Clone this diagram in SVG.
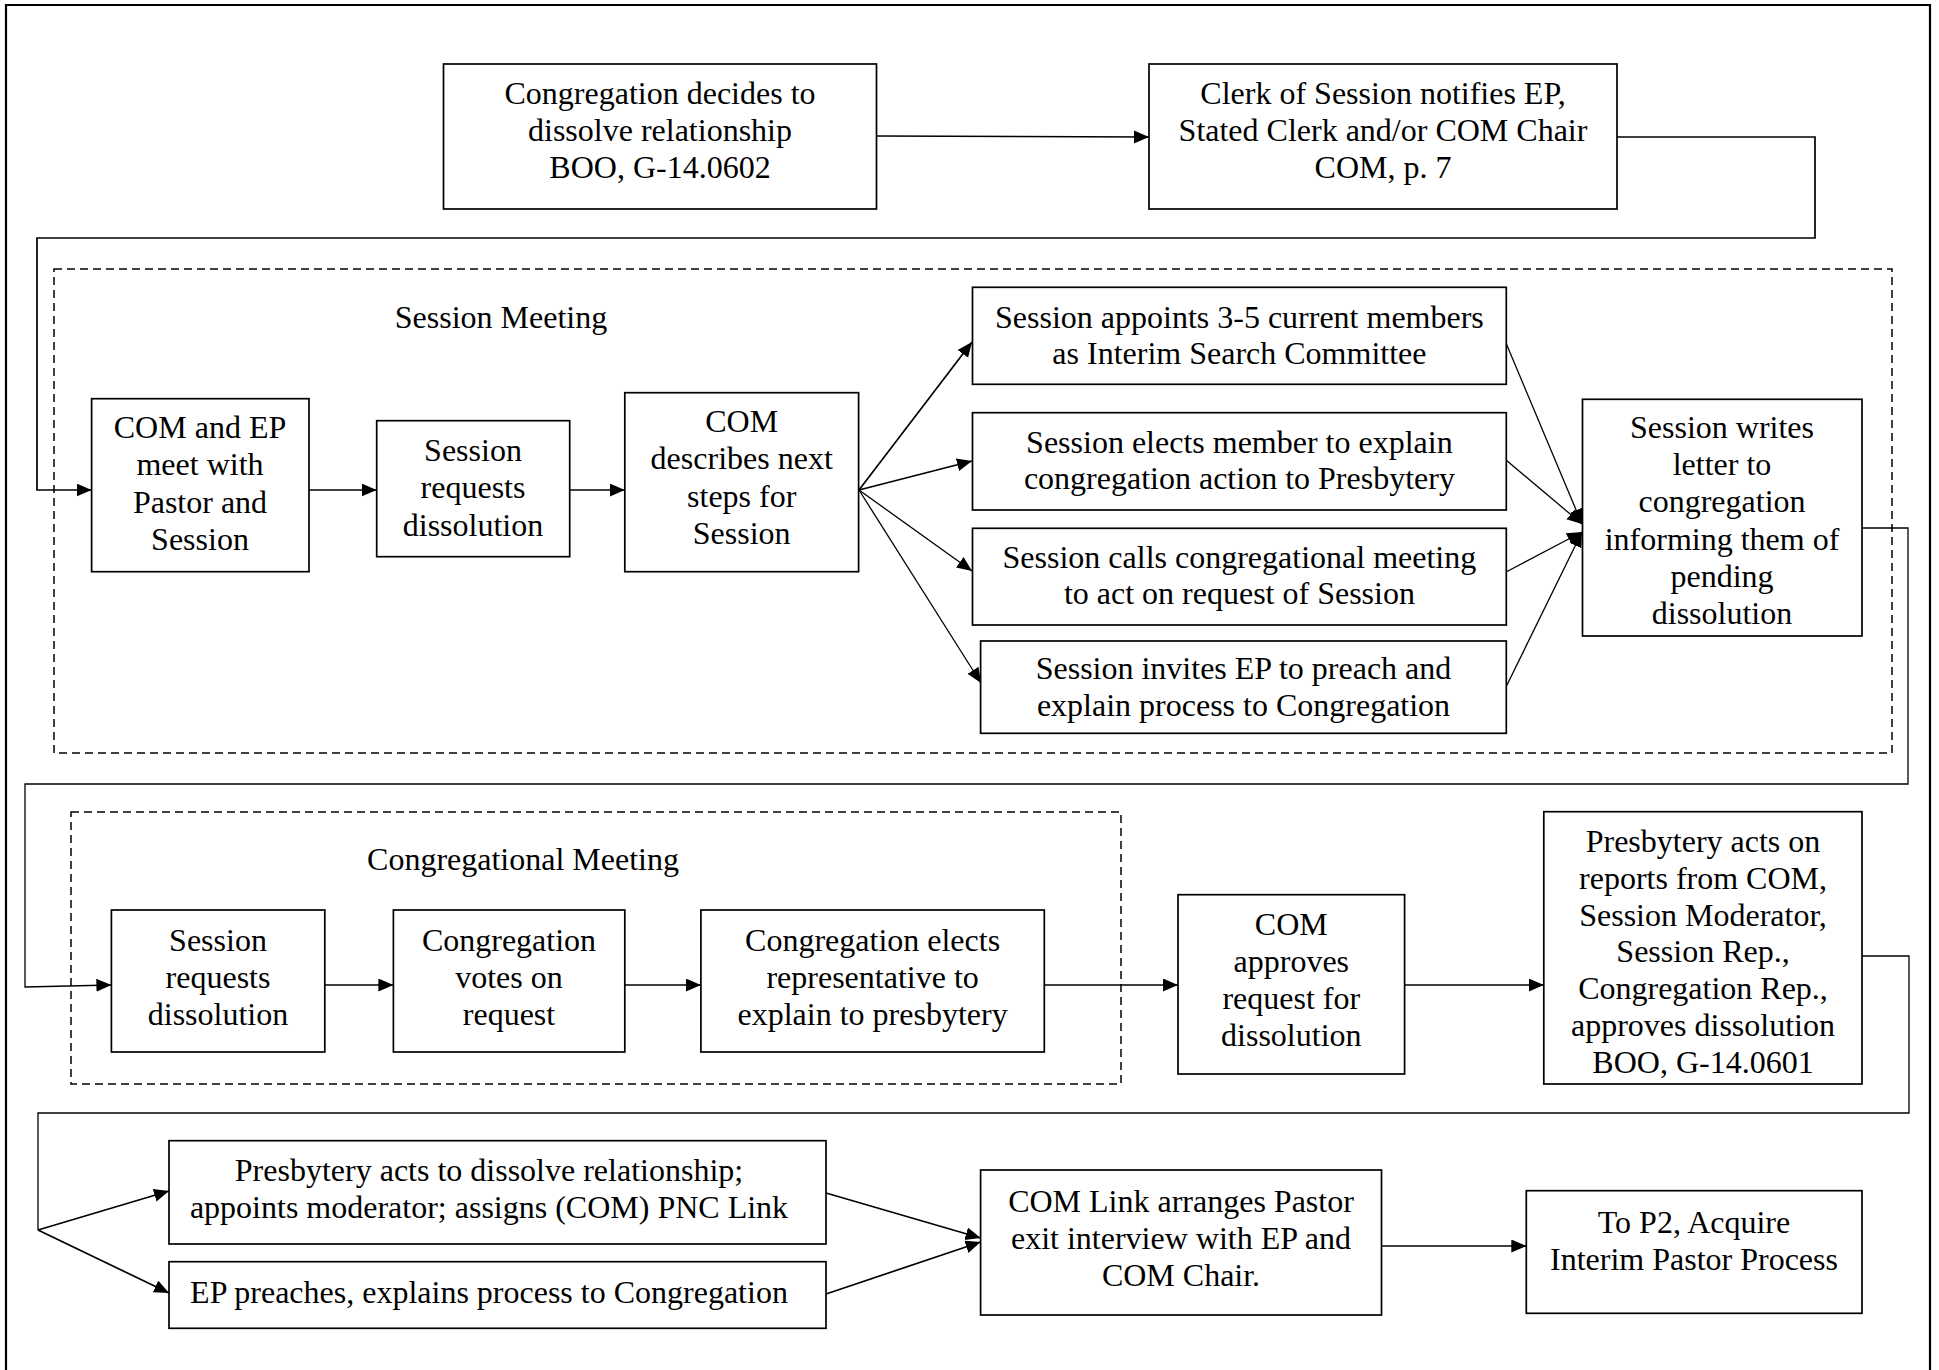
<svg xmlns="http://www.w3.org/2000/svg" width="1939" height="1370" viewBox="0 0 1939 1370">
<style>
  .box { fill: #fff; stroke: #000; stroke-width: 1.7; }
  .grp { fill: none; stroke: #000; stroke-width: 1.5; stroke-dasharray: 8 5; }
  .t { font-family: "Liberation Serif", "Times New Roman", serif; font-size: 32px; fill: #000; text-anchor: middle; }
  .c { fill: none; stroke: #000; stroke-width: 1.7; }
  .cthin { fill: none; stroke: #000; stroke-width: 1.3; }
  .border { fill: none; stroke: #000; stroke-width: 2.2; }
</style>
<defs>
  <marker id="arr" markerUnits="userSpaceOnUse" markerWidth="16" markerHeight="14" refX="15" refY="6.5" orient="auto">
    <path d="M0,0 L15,6.5 L0,13 z" fill="#000"/>
  </marker>
</defs>
<rect width="1939" height="1370" fill="#fff"/>
<path class="border" d="M6,1372 V5 H1930 V1372"/>

<g id="group-session-meeting">
  <rect class="grp" x="54" y="269" width="1838" height="484"/>
  <text class="t" x="501" y="328">Session Meeting</text>
</g>
<g id="group-congregational-meeting">
  <rect class="grp" x="71" y="812" width="1050" height="272"/>
  <text class="t" x="523" y="870">Congregational Meeting</text>
</g>

<g id="connectors">
  <line class="c" x1="877" y1="136" x2="1149" y2="137" marker-end="url(#arr)"/>
  <path class="c" d="M1617,137 H1815 V238 H37 V490 H91.6" marker-end="url(#arr)"/>
  <line class="c" x1="309" y1="490" x2="376.7" y2="490" marker-end="url(#arr)"/>
  <line class="c" x1="569.7" y1="490" x2="624.8" y2="490" marker-end="url(#arr)"/>
  <line class="c" x1="859" y1="490" x2="972" y2="342" marker-end="url(#arr)"/>
  <line class="c" x1="859" y1="490" x2="972" y2="461" marker-end="url(#arr)"/>
  <line class="cthin" x1="859" y1="490" x2="972" y2="571" marker-end="url(#arr)"/>
  <line class="cthin" x1="859" y1="490" x2="981" y2="683" marker-end="url(#arr)"/>
  <line class="cthin" x1="1506" y1="343" x2="1582" y2="524" marker-end="url(#arr)"/>
  <line class="cthin" x1="1506" y1="460" x2="1582" y2="524" marker-end="url(#arr)"/>
  <line class="cthin" x1="1506" y1="572" x2="1582" y2="532" marker-end="url(#arr)"/>
  <line class="cthin" x1="1506" y1="687" x2="1582" y2="532" marker-end="url(#arr)"/>
  <path class="cthin" d="M1862,528 H1908 V784 H25 V987 L111.4,985" marker-end="url(#arr)"/>
  <line class="c" x1="324.8" y1="985" x2="393.4" y2="985" marker-end="url(#arr)"/>
  <line class="c" x1="624.8" y1="985" x2="700.9" y2="985" marker-end="url(#arr)"/>
  <line class="c" x1="1044.3" y1="985" x2="1178" y2="985" marker-end="url(#arr)"/>
  <line class="c" x1="1404.6" y1="985" x2="1543.8" y2="985" marker-end="url(#arr)"/>
  <path class="cthin" d="M1862,956 H1909 V1113 H38 V1230"/>
  <line class="c" x1="38" y1="1230" x2="169" y2="1191" marker-end="url(#arr)"/>
  <line class="c" x1="38" y1="1230" x2="169" y2="1293" marker-end="url(#arr)"/>
  <line class="c" x1="826" y1="1193" x2="980.6" y2="1238" marker-end="url(#arr)"/>
  <line class="c" x1="826" y1="1294" x2="980.6" y2="1242" marker-end="url(#arr)"/>
  <line class="c" x1="1381.5" y1="1246" x2="1526.3" y2="1246" marker-end="url(#arr)"/>
</g>

<g id="n-decide">
  <rect class="box" x="443.5" y="64" width="433" height="145"/>
  <text class="t" x="660" y="104">Congregation decides to</text>
  <text class="t" x="660" y="141">dissolve relationship</text>
  <text class="t" x="660" y="178">BOO, G-14.0602</text>
</g>
<g id="n-clerk">
  <rect class="box" x="1149" y="64" width="468" height="145"/>
  <text class="t" x="1383" y="104">Clerk of Session notifies EP,</text>
  <text class="t" x="1383" y="141">Stated Clerk and/or COM Chair</text>
  <text class="t" x="1383" y="178">COM, p. 7</text>
</g>
<g id="n-com-ep">
  <rect class="box" x="91.6" y="398.7" width="217.4" height="173"/>
  <text class="t" x="200" y="438">COM and EP</text>
  <text class="t" x="200" y="475.3">meet with</text>
  <text class="t" x="200" y="512.6">Pastor and</text>
  <text class="t" x="200" y="550">Session</text>
</g>
<g id="n-session-req">
  <rect class="box" x="376.7" y="420.7" width="193" height="136"/>
  <text class="t" x="473" y="461">Session</text>
  <text class="t" x="473" y="498.3">requests</text>
  <text class="t" x="473" y="535.6">dissolution</text>
</g>
<g id="n-com-desc">
  <rect class="box" x="624.8" y="392.7" width="233.8" height="179"/>
  <text class="t" x="741.7" y="432">COM</text>
  <text class="t" x="741.7" y="469.3">describes next</text>
  <text class="t" x="741.7" y="506.6">steps for</text>
  <text class="t" x="741.7" y="544">Session</text>
</g>
<g id="n-appoint">
  <rect class="box" x="972.5" y="287.3" width="533.8" height="97"/>
  <text class="t" x="1239.4" y="327.5">Session appoints 3-5 current members</text>
  <text class="t" x="1239.4" y="364">as Interim Search Committee</text>
</g>
<g id="n-elect-member">
  <rect class="box" x="972.5" y="412.7" width="533.8" height="97.3"/>
  <text class="t" x="1239.4" y="452.5">Session elects member to explain</text>
  <text class="t" x="1239.4" y="489">congregation action to Presbytery</text>
</g>
<g id="n-calls">
  <rect class="box" x="972.5" y="528.3" width="533.8" height="96.7"/>
  <text class="t" x="1239.4" y="567.5">Session calls congregational meeting</text>
  <text class="t" x="1239.4" y="604">to act on request of Session</text>
</g>
<g id="n-invites">
  <rect class="box" x="980.6" y="641" width="525.7" height="92.3"/>
  <text class="t" x="1243.5" y="679">Session invites EP to preach and</text>
  <text class="t" x="1243.5" y="716">explain process to Congregation</text>
</g>
<g id="n-letter">
  <rect class="box" x="1582.5" y="399.3" width="279.5" height="236.7"/>
  <text class="t" x="1722" y="438">Session writes</text>
  <text class="t" x="1722" y="475.2">letter to</text>
  <text class="t" x="1722" y="512.4">congregation</text>
  <text class="t" x="1722" y="549.6">informing them of</text>
  <text class="t" x="1722" y="586.8">pending</text>
  <text class="t" x="1722" y="624">dissolution</text>
</g>
<g id="n-cong-session-req">
  <rect class="box" x="111.4" y="910" width="213.4" height="142"/>
  <text class="t" x="218" y="951">Session</text>
  <text class="t" x="218" y="988">requests</text>
  <text class="t" x="218" y="1025">dissolution</text>
</g>
<g id="n-votes">
  <rect class="box" x="393.4" y="910" width="231.4" height="142"/>
  <text class="t" x="509" y="951">Congregation</text>
  <text class="t" x="509" y="988">votes on</text>
  <text class="t" x="509" y="1025">request</text>
</g>
<g id="n-elects-rep">
  <rect class="box" x="700.9" y="910" width="343.4" height="142"/>
  <text class="t" x="872.6" y="951">Congregation elects</text>
  <text class="t" x="872.6" y="988">representative to</text>
  <text class="t" x="872.6" y="1025">explain to presbytery</text>
</g>
<g id="n-com-approves">
  <rect class="box" x="1178" y="894.7" width="226.6" height="179.3"/>
  <text class="t" x="1291.3" y="934.5">COM</text>
  <text class="t" x="1291.3" y="971.7">approves</text>
  <text class="t" x="1291.3" y="1008.9">request for</text>
  <text class="t" x="1291.3" y="1046">dissolution</text>
</g>
<g id="n-presbytery-acts">
  <rect class="box" x="1543.8" y="811.7" width="318.2" height="272.3"/>
  <text class="t" x="1703" y="852">Presbytery acts on</text>
  <text class="t" x="1703" y="888.8">reports from COM,</text>
  <text class="t" x="1703" y="925.6">Session Moderator,</text>
  <text class="t" x="1703" y="962.4">Session Rep.,</text>
  <text class="t" x="1703" y="999.2">Congregation Rep.,</text>
  <text class="t" x="1703" y="1036">approves dissolution</text>
  <text class="t" x="1703" y="1072.5">BOO, G-14.0601</text>
</g>
<g id="n-dissolve">
  <rect class="box" x="169" y="1140.7" width="657" height="103.3"/>
  <text class="t" x="489" y="1180.5">Presbytery acts to dissolve relationship;</text>
  <text class="t" x="489" y="1217.5">appoints moderator; assigns (COM) PNC Link</text>
</g>
<g id="n-ep-preaches">
  <rect class="box" x="169" y="1261.7" width="657" height="66.6"/>
  <text class="t" x="489" y="1302.5">EP preaches, explains process to Congregation</text>
</g>
<g id="n-exit">
  <rect class="box" x="980.6" y="1170" width="400.9" height="145"/>
  <text class="t" x="1181" y="1211.5">COM Link arranges Pastor</text>
  <text class="t" x="1181" y="1248.5">exit interview with EP and</text>
  <text class="t" x="1181" y="1285.5">COM Chair.</text>
</g>
<g id="n-p2">
  <rect class="box" x="1526.3" y="1190.7" width="335.7" height="122.6"/>
  <text class="t" x="1694" y="1232.5">To P2, Acquire</text>
  <text class="t" x="1694" y="1269.5">Interim Pastor Process</text>
</g>
</svg>
